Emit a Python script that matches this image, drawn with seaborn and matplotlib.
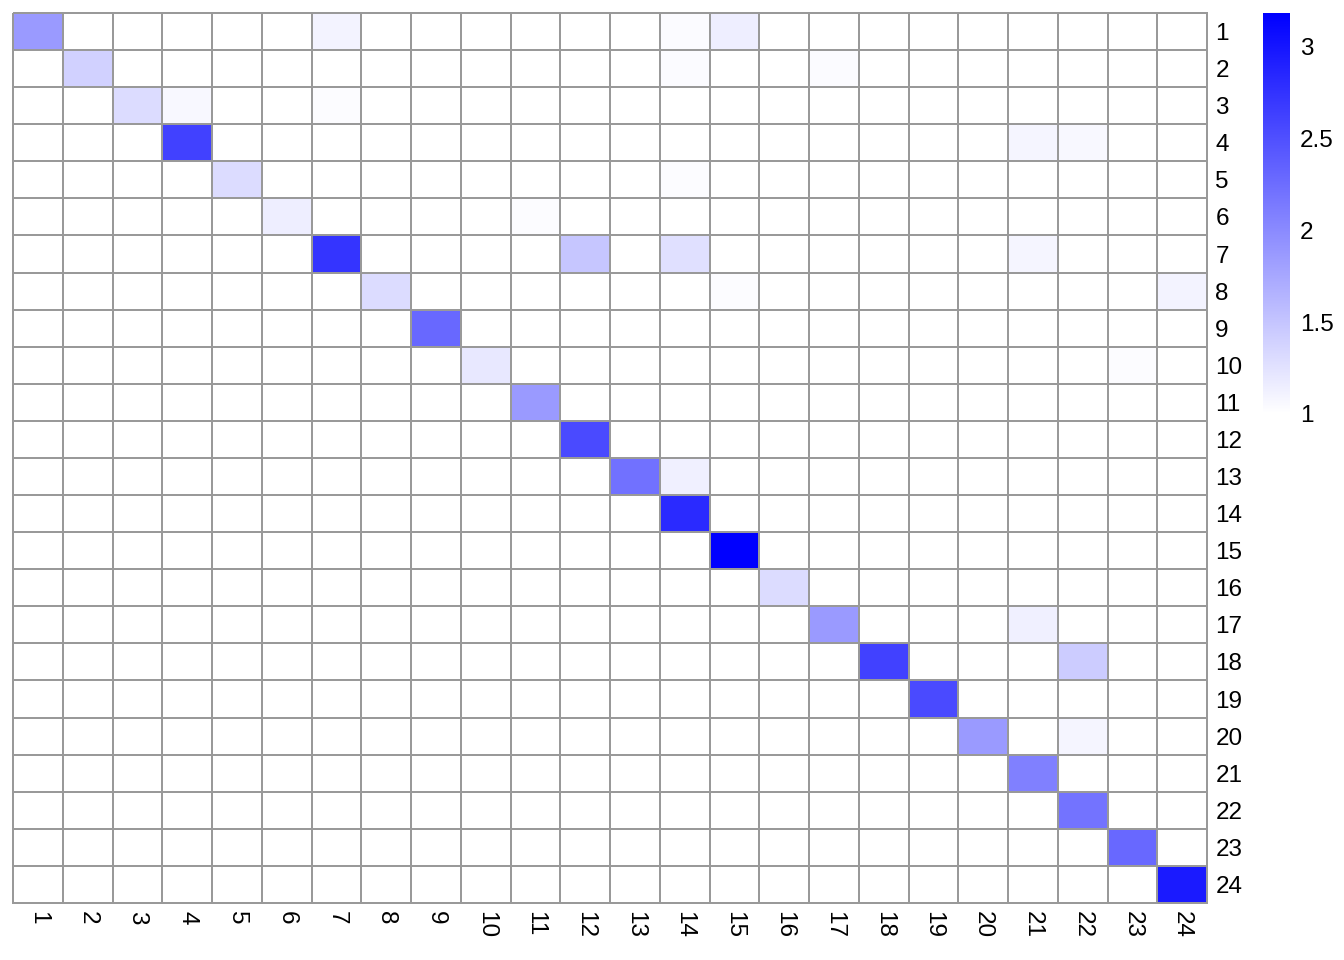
import matplotlib
matplotlib.use("Agg")
import matplotlib.pyplot as plt
import numpy as np
import pandas as pd
import seaborn as sns
from matplotlib.colors import LinearSegmentedColormap

# cluster labels (rows and columns)
labels = [str(i) for i in range(1, 25)]

# diagonal values
diag_values = [1.87, 1.40, 1.30, 2.63, 1.30, 1.15, 2.74, 1.30, 2.29, 1.20,
               1.87, 2.55, 2.22, 2.82, 3.18, 1.30, 1.87, 2.63, 2.55, 1.87,
               2.09, 2.20, 2.29, 2.96]

# faint off-diagonal cells (1-based row, column)
off_rows = [1, 1, 1, 2, 2, 3, 3, 4, 4, 5, 6, 7, 7, 7, 8, 8, 10, 13, 17, 18, 20]
off_cols = [7, 14, 15, 14, 17, 4, 7, 21, 22, 14, 11, 12, 14, 21, 15, 24, 23, 14, 21, 22, 22]
off_values = [1.11, 1.04, 1.15, 1.04, 1.04, 1.06, 1.03, 1.09, 1.06, 1.03, 1.03,
              1.49, 1.27, 1.09, 1.03, 1.11, 1.03, 1.13, 1.13, 1.44, 1.09]

base_value = 1.0
vmin, vmax = 1.0, 3.185
cbar_ticks = [1, 1.5, 2, 2.5, 3]

# build the matrix
mat = np.full((len(labels), len(labels)), base_value)
for i, v in enumerate(diag_values):
    mat[i, i] = v
for r, c, v in zip(off_rows, off_cols, off_values):
    mat[r - 1, c - 1] = v
df = pd.DataFrame(mat, index=labels, columns=labels)

sns.set_style("white")
plt.rcParams["font.family"] = ["Liberation Sans", "DejaVu Sans"]
plt.rcParams["text.color"] = "black"
plt.rcParams["xtick.color"] = "black"
plt.rcParams["ytick.color"] = "black"

cmap = LinearSegmentedColormap.from_list("wb", ["#FFFFFF", "#0000FF"])

fig = plt.figure(figsize=(13.44, 9.6), dpi=100)
ax = fig.add_axes([13 / 1344, 1 - 903 / 960, 1194 / 1344, 890 / 960])
cax = fig.add_axes([1263 / 1344, 1 - 414 / 960, 27 / 1344, 401 / 960])

sns.heatmap(df, ax=ax, cmap=cmap, vmin=vmin, vmax=vmax,
            linewidths=1.3, linecolor="#999999",
            cbar=True, cbar_ax=cax, cbar_kws={"ticks": cbar_ticks})
ax.collections[0].set_clip_on(False)

# row labels on the right, column labels rotated underneath
ax.yaxis.tick_right()
ax.tick_params(axis="y", length=0, pad=6, labelsize=17.5, labelrotation=0, labelcolor="black")
ax.tick_params(axis="x", length=0, pad=6, labelsize=17.5, labelrotation=270, labelcolor="black")
for t in ax.get_yticklabels():
    t.set_ha("left")
ax.set_xlabel("")
ax.set_ylabel("")

cb = ax.collections[0].colorbar
cb.outline.set_visible(False)
cb.ax.tick_params(length=0, pad=7, labelsize=17.5, labelcolor="black")
cb.ax.set_yticklabels(["1", "1.5", "2", "2.5", "3"])

fig.savefig("out.png", dpi=100)
